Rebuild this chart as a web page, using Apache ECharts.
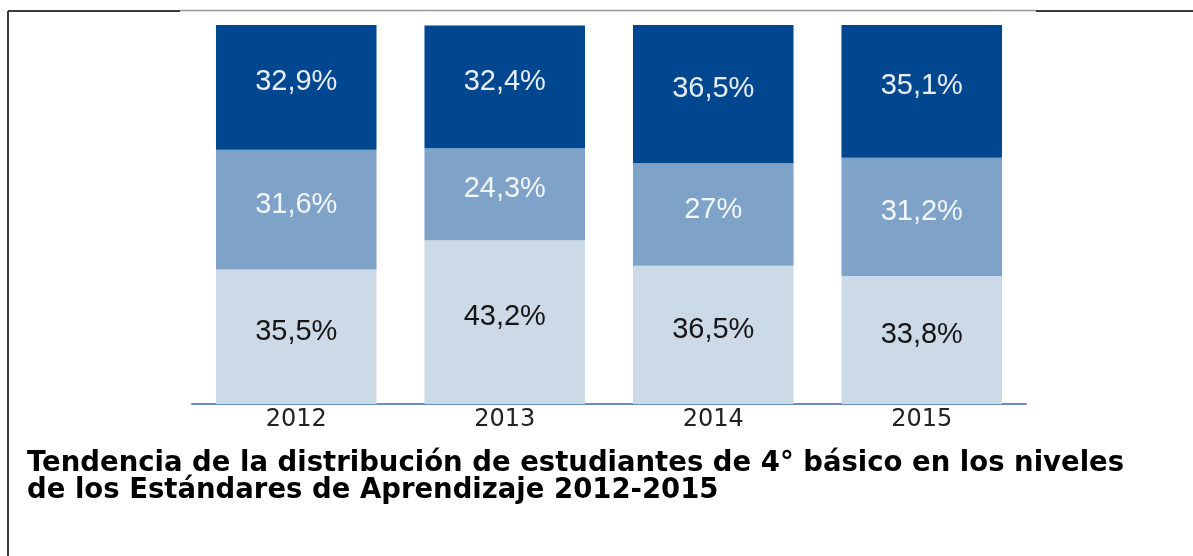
<!DOCTYPE html>
<html>
<head>
<meta charset="utf-8">
<script src="https://cdn.jsdelivr.net/npm/echarts@6/dist/echarts.min.js"></script>
<style>
html,body{margin:0;padding:0;background:#fff;}
#chart{width:1193px;height:556px;}
</style>
</head>
<body>
<div id="chart"></div>
<script>
// Data
var categories = ['2012', '2013', '2014', '2015'];
var nivelInsuficiente = [35.5, 43.2, 36.5, 33.8];   // bottom segment
var nivelElemental = [31.6, 24.3, 27, 31.2];         // middle segment
var nivelAdecuado = [32.9, 32.4, 36.5, 35.1];        // top segment
var yTicks = [0, 100];
var captionLine1 = 'Tendencia de la distribución de estudiantes de 4° básico en los niveles';
var captionLine2 = 'de los Estándares de Aprendizaje 2012-2015';

function fmt(p) {
  return String(p.value).replace('.', ',') + '%';
}

var chart = echarts.init(document.getElementById('chart'), null, {renderer: 'canvas'});

function seriesDef(name, data, color, labelColor) {
  return {
    name: name,
    type: 'bar',
    stack: 'total',
    data: data,
    barCategoryGap: '23%',
    itemStyle: {color: color},
    label: {
      show: true,
      position: 'inside',
      offset: [0, -5],
      formatter: fmt,
      color: labelColor,
      fontFamily: 'Liberation Sans',
      fontSize: 29
    },
    silent: true
  };
}

chart.setOption({
  animation: false,
  backgroundColor: '#ffffff',
  title: {
    text: captionLine1 + '\n' + captionLine2,
    left: 22,
    top: 445,
    textStyle: {
      fontFamily: 'DejaVu Sans',
      fontWeight: 'bold',
      fontSize: 27.5,
      lineHeight: 27.5,
      color: '#000000'
    }
  },
  grid: {left: 192, right: 167, top: 25, bottom: 152},
  xAxis: {
    type: 'category',
    data: categories,
    axisLine: {show: true, lineStyle: {color: '#6E8CB9', width: 2}},
    axisTick: {show: false},
    axisLabel: {
      margin: 4,
      color: '#222222',
      fontFamily: 'DejaVu Sans',
      fontSize: 24
    }
  },
  yAxis: {
    type: 'value',
    min: yTicks[0],
    max: yTicks[1],
    show: false,
    splitLine: {show: false}
  },
  series: [
    seriesDef('Insuficiente', nivelInsuficiente, '#CCD9E6', '#151515'),
    seriesDef('Elemental', nivelElemental, '#7FA3C8', '#F2F5F9'),
    seriesDef('Adecuado', nivelAdecuado, '#00478F', '#E8EEF5')
  ],
  graphic: [
    {type: 'line', shape: {x1: 8, y1: 11, x2: 8, y2: 556}, style: {stroke: '#3a3a3a', lineWidth: 2}},
    {type: 'line', shape: {x1: 8, y1: 11, x2: 180, y2: 11}, style: {stroke: '#3a3a3a', lineWidth: 2}},
    {type: 'line', shape: {x1: 180, y1: 10.5, x2: 1036, y2: 10.5}, style: {stroke: '#9a9a9a', lineWidth: 1.5}},
    {type: 'line', shape: {x1: 1036, y1: 11, x2: 1193, y2: 11}, style: {stroke: '#3a3a3a', lineWidth: 2}}
  ]
});
</script>
</body>
</html>
